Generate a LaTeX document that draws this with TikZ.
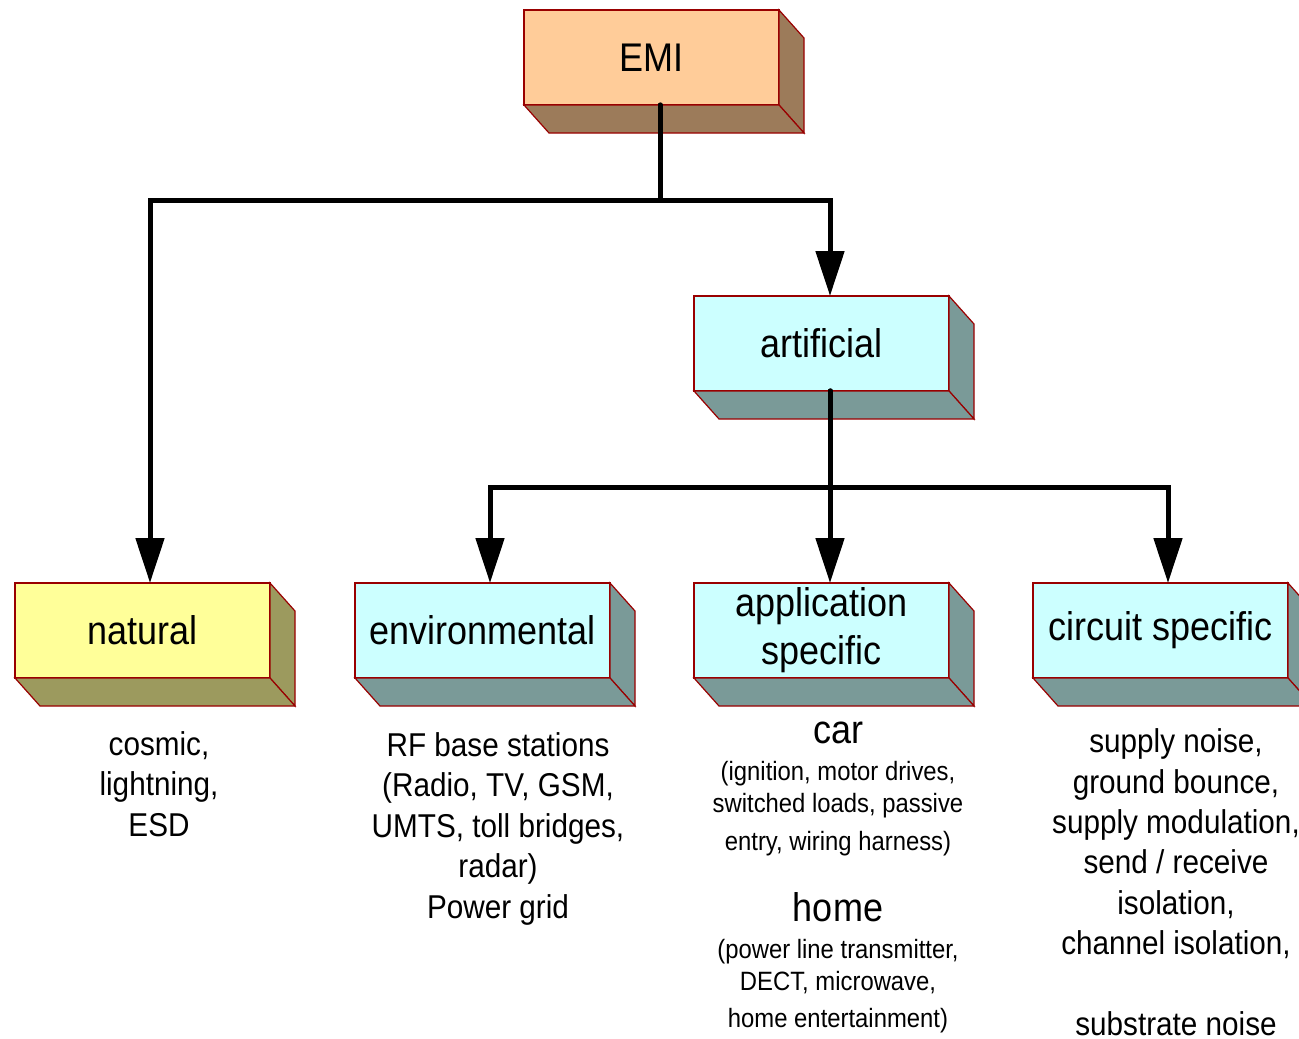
\documentclass[tikz,border=0pt]{standalone}
\usepackage{fontspec}
\setmainfont{Liberation Sans}
\newfontfamily\lab[FakeStretch=0.9]{Liberation Sans}
\usetikzlibrary{arrows.meta}

\definecolor{edge}{HTML}{990000}
\definecolor{emifront}{HTML}{FFCC99}
\definecolor{emiside}{HTML}{9C7B5A}
\definecolor{cyanfront}{HTML}{CCFFFF}
\definecolor{cyanside}{HTML}{7A9A98}
\definecolor{yelfront}{HTML}{FFFF99}
\definecolor{yelside}{HTML}{9C9A5E}

\tikzset{
  face/.style={draw=edge, line width=1.2pt, line join=miter},
  blockfront/.style={face, minimum width=255pt, minimum height=95pt,
    inner sep=0pt, outer sep=0pt, align=center,
    font=\lab\fontsize{40}{48}\selectfont},
  conn/.style={line width=5pt, black, line cap=round},
  tip/.style={-{Triangle[length=45pt,width=28pt]}},
  % multi-line texts are placed by the baseline of their last line
  note/.style={align=center, inner sep=0pt, anchor=base,
    font=\lab\fontsize{33}{40.4}\selectfont},
  head/.style={align=center, inner sep=0pt, anchor=base,
    font=\lab\fontsize{40}{48}\selectfont},
  small/.style={align=center, inner sep=0pt, anchor=base,
    font=\lab\fontsize{26.5}{32}\selectfont}
}

% right and bottom faces of a block, hung on its front node
\newcommand\blockdepth[2]{%
  \filldraw[face, fill=#2] (#1.north east) -- ++(25,28) -- ++(0,95) -- (#1.south east) -- cycle;
  \filldraw[face, fill=#2] (#1.south west) -- (#1.south east) -- ++(25,28) -- ++(-255,0) -- cycle;
}

\begin{document}
\begin{tikzpicture}[x=1pt,y=-1pt]
\useasboundingbox (0,0) rectangle (1299,1039);
\clip (0,0) rectangle (1299,1039);
\fill[white] (0,0) rectangle (1299,1039);

% blocks
\node[blockfront, fill=emifront] (emi) at (651.5,57.5) {EMI};
\blockdepth{emi}{emiside}
\node[blockfront, fill=cyanfront] (art) at (821.5,343.5) {artificial};
\blockdepth{art}{cyanside}
\node[blockfront, fill=yelfront] (nat) at (142.5,630.5) {natural};
\blockdepth{nat}{yelside}
\node[blockfront, fill=cyanfront] (env) at (482.5,630.5) {environmental};
\blockdepth{env}{cyanside}
\node[blockfront, fill=cyanfront] (app) at (821.5,630.5) {application\\specific};
\blockdepth{app}{cyanside}
\node[blockfront, fill=cyanfront] (cir) at (1160.5,630.5) {circuit specific};
\blockdepth{cir}{cyanside}

% connectors
\draw[conn, tip] ([xshift=8.5pt]emi.south) -- ++(0,95) -| ([xshift=7.5pt]nat.north);
\draw[conn, tip] ([xshift=8.5pt]emi.south) -- ++(0,95) -| ([xshift=8.5pt]art.north);
\draw[conn, tip] ([xshift=8.5pt]art.south) -- ++(0,96) -| ([xshift=7.5pt]env.north);
\draw[conn, tip] ([xshift=8.5pt]art.south) -- ++(0,96) -| ([xshift=7.5pt]cir.north);
\draw[conn, tip] ([xshift=8.5pt]art.south) -- ([xshift=8.5pt]app.north);

% examples under each block
\node[note] (natnote) at (159,836) {cosmic,\\lightning,\\ESD};
\node[note] (envnote) at (498,918) {RF base stations\\(Radio, TV, GSM,\\UMTS, toll bridges,\\radar)\\Power grid};
\node[head] (carhead) at (838,743) {car};
\node[small] (carnote) at (838,850) {(ignition, motor drives,\\switched loads, passive\\[6pt]entry, wiring harness)};
\node[head] (homehead) at (838,921) {home};
\node[small] (homenote) at (838,1027) {(power line transmitter,\\DECT, microwave,\\[5pt]home entertainment)};
\node[note] (cirnote) at (1176,1035.5) {supply noise,\\ground bounce,\\supply modulation,\\send / receive\\isolation,\\channel isolation,\\[40.4pt]substrate noise};
\end{tikzpicture}
\end{document}
